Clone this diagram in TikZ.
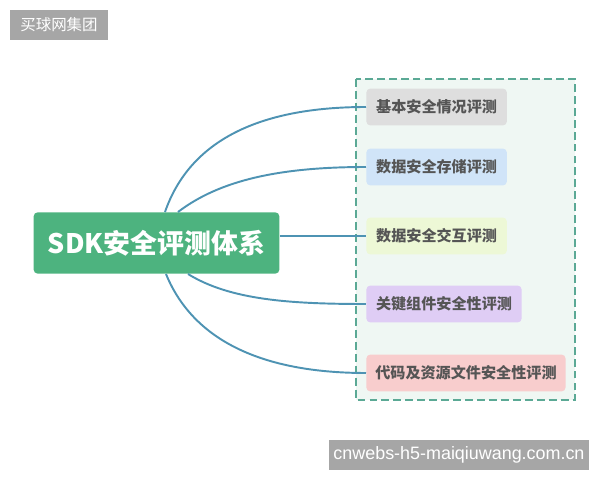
\documentclass[tikz,border=0pt]{standalone}
\usepackage{fontspec}
\newfontfamily\cjk{Noto Sans CJK SC}
\newfontfamily\wmfont{Liberation Sans}
\definecolor{rootgreen}{HTML}{4DB37F}
\definecolor{branchblue}{HTML}{4E93B3}
\definecolor{dashgreen}{HTML}{5BA995}
\definecolor{panelmint}{HTML}{EFF7F3}
\definecolor{markgray}{HTML}{A6A6A6}
\definecolor{leaftext}{HTML}{555555}
\definecolor{leafgray}{HTML}{DEDEDE}
\definecolor{leafblue}{HTML}{D0E4F8}
\definecolor{leaflime}{HTML}{EDF8D6}
\definecolor{leafviolet}{HTML}{DFCDF5}
\definecolor{leafpink}{HTML}{F8CDCD}
\tikzset{
  root/.style={fill=rootgreen,rounded corners=2.5pt,minimum width=140pt,minimum height=35pt,
    text=white,font=\cjk\bfseries\fontsize{15.3}{18}\selectfont,inner sep=0pt},
  leaf/.style={rounded corners=2.3pt,minimum height=21pt,anchor=west,inner sep=0pt,
    text=leaftext,font=\cjk\bfseries\fontsize{8.6}{10}\selectfont},
  branch/.style={branchblue,line width=1.1pt},
  stamp/.style={fill=markgray,text=white,inner sep=0pt,minimum height=17pt}
}
\begin{document}
\begin{tikzpicture}[x=0.02cm,y=-0.02cm]
\useasboundingbox (0,0) rectangle (600,480);

% watermarks
\node[stamp,minimum width=55.6pt,font=\cjk\fontsize{8.8}{10}\selectfont] (markA) at (59,25) {买球网集团};
\node[stamp,minimum width=148.5pt,font=\wmfont\fontsize{10.2}{12}\selectfont] (markB) at (459,455) {cnwebs-h5-maiqiuwang.com.cn};

% dashed panel
\draw[dashgreen,line width=1pt,dash pattern=on 4.5pt off 2.3pt,fill=panelmint] (356,79) rectangle (575,400);

\node[root] (sdk) at (156.5,243) {SDK安全评测体系};

\node[leaf,fill=leafgray,minimum width=80pt] (basic) at (366,107) {基本安全情况评测};
\node[leaf,fill=leafblue,minimum width=80pt] (store) at (366,167) {数据安全存储评测};
\node[leaf,fill=leaflime,minimum width=80pt] (inter) at (366,236) {数据安全交互评测};
\node[leaf,fill=leafviolet,minimum width=88.4pt] (comp) at (366,304) {关键组件安全性评测};
\node[leaf,fill=leafpink,minimum width=113.4pt] (code) at (366,373) {代码及资源文件安全性评测};

\coordinate (t1) at (165,212);
\coordinate (t2) at (178,212);
\coordinate (b1) at (188,274);
\coordinate (b2) at (166,274);

\draw[branch] (t1) .. controls (190,140) and (260,107) .. (basic.west);
\draw[branch] (t2) .. controls (220,180) and (280,167) .. (store.west);
\draw[branch] (inter.west -| sdk.east) -- (inter.west);
\draw[branch] (b1) .. controls (230,300) and (290,304) .. (comp.west);
\draw[branch] (b2) .. controls (195,345) and (270,373) .. (code.west);
\end{tikzpicture}
\end{document}
